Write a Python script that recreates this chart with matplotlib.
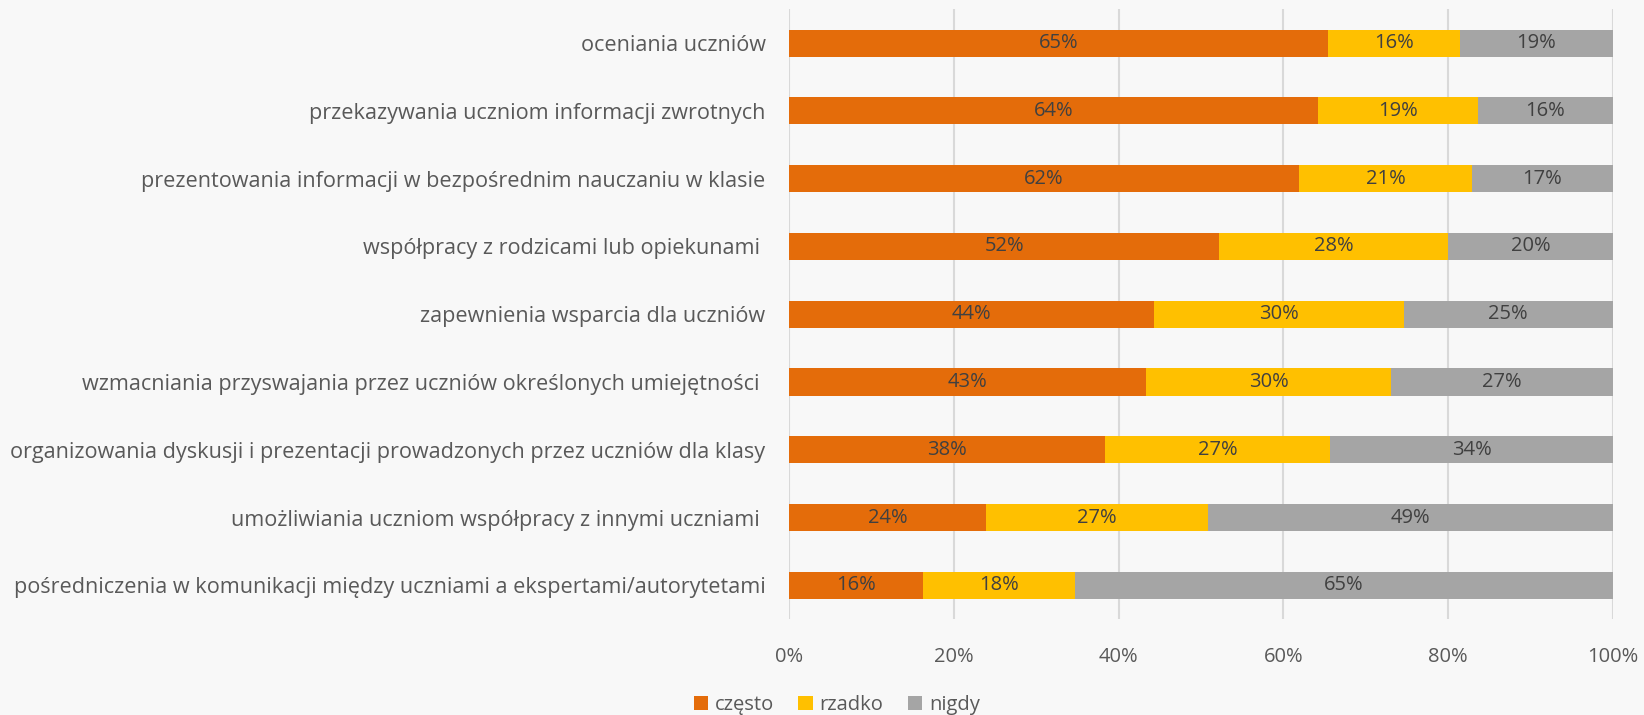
import numpy as np
import matplotlib
matplotlib.use('Agg')
import matplotlib.pyplot as plt

plt.rcParams['font.family'] = ['Open Sans', 'DejaVu Sans']

categories = [
    'oceniania uczniów',
    'przekazywania uczniom informacji zwrotnych',
    'prezentowania informacji w bezpośrednim nauczaniu w klasie',
    'współpracy z rodzicami lub opiekunami ',
    'zapewnienia wsparcia dla uczniów',
    'wzmacniania przyswajania przez uczniów określonych umiejętności ',
    'organizowania dyskusji i prezentacji prowadzonych przez uczniów dla klasy',
    'umożliwiania uczniom współpracy z innymi uczniami ',
    'pośredniczenia w komunikacji między uczniami a ekspertami/autorytetami',
]
czesto = [65.4, 64.2, 61.9, 52.2, 44.3, 43.3, 38.3, 23.9, 16.3]
rzadko = [16.0, 19.4, 21.0, 27.8, 30.3, 29.8, 27.4, 26.9, 18.4]
nigdy = [18.6, 16.4, 17.1, 20.0, 25.4, 26.9, 34.3, 49.2, 65.3]
series_names = ['często', 'rzadko', 'nigdy']
colors = ['#E46C0A', '#FFC000', '#A5A5A5']

fig = plt.figure(figsize=(16.44, 7.15), dpi=100)
fig.patch.set_facecolor('#F8F8F8')
ax = fig.add_axes([0.480, 0.134, 0.501, 0.853])
ax.set_facecolor('none')

y = np.arange(len(categories))
left = np.zeros(len(categories))
for name, vals, col in zip(series_names, [czesto, rzadko, nigdy], colors):
    vals = np.array(vals)
    ax.barh(y, vals, left=left, height=0.4, color=col, label=name, zorder=3)
    for yi, l, v in zip(y, left, vals):
        ax.text(l + v / 2, yi, f'{v:.0f}%', ha='center', va='center',
                fontsize=14.5, color='#404040', zorder=4)
    left = left + vals

ax.set_ylim(len(categories) - 0.5, -0.5)
ax.set_xlim(0, 100)
ax.set_yticks(y)
ax.set_yticklabels(categories, fontsize=15.6, color='#595959')
ax.set_xticks(np.arange(0, 101, 20))
ax.set_xticklabels([f'{t}%' for t in range(0, 101, 20)], fontsize=14.5, color='#595959')
ax.tick_params(axis='both', length=0)
ax.tick_params(axis='x', pad=20)
ax.tick_params(axis='y', pad=17)
ax.grid(axis='x', color='#D9D9D9', linewidth=1.5, zorder=0)
for s in ax.spines.values():
    s.set_visible(False)

fig.legend(loc='lower center', bbox_to_anchor=(0.509, -0.025), ncol=3, frameon=False,
           fontsize=14.5, handlelength=0.7, handleheight=0.7, handletextpad=0.35,
           columnspacing=1.2, labelcolor='#595959')

fig.savefig('out.png', dpi=100, facecolor=fig.get_facecolor())
